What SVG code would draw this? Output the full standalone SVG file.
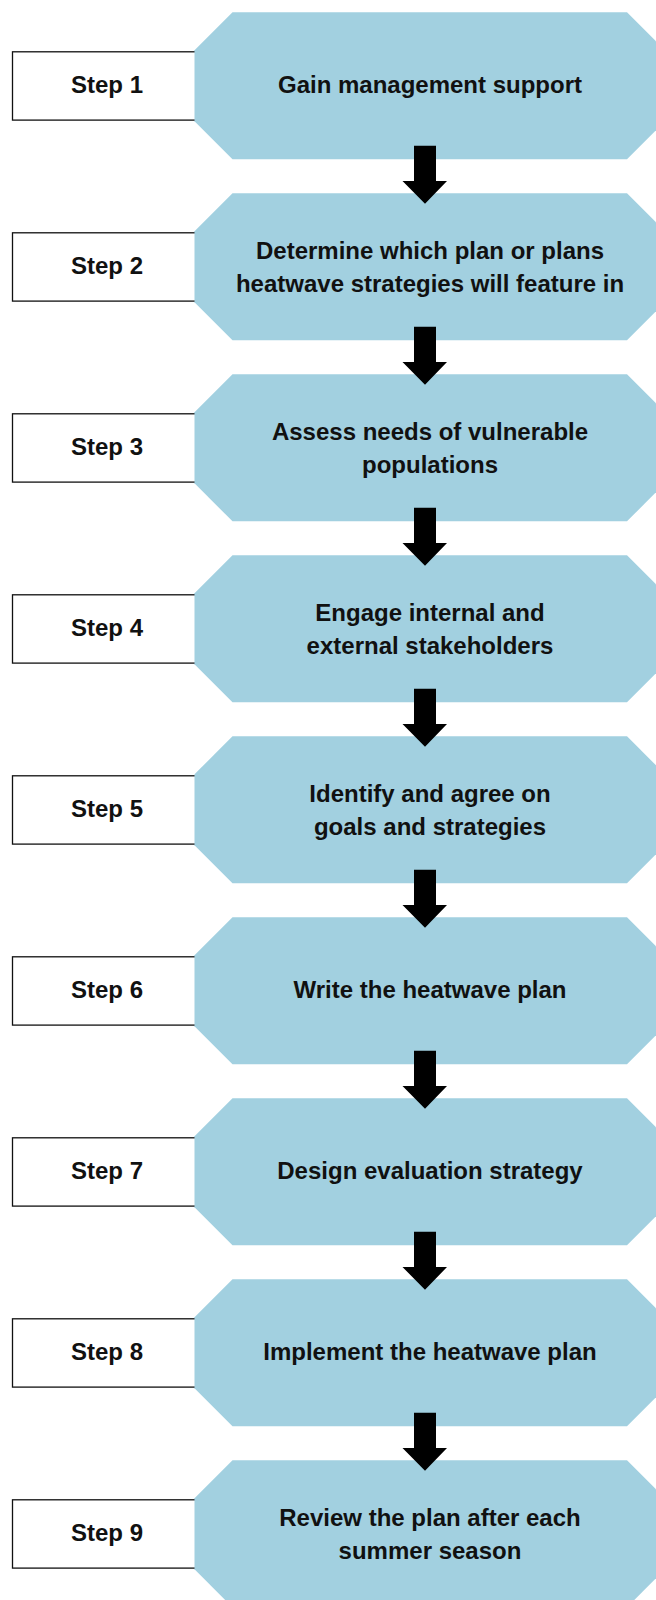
<svg xmlns="http://www.w3.org/2000/svg" xmlns:xlink="http://www.w3.org/1999/xlink" width="656" height="1600" viewBox="0 0 656 1600">
<style>
.lbl{fill:#fff;stroke:#111;stroke-width:1.3}
.oct{fill:#a2d0e0}
.t{font-family:"Liberation Sans",Arial,sans-serif;font-weight:bold;font-size:24px;fill:#111;text-anchor:middle}
.arr{fill:#000}
</style>
<defs>
<polygon id="octShape" class="oct" points="194.5,38 232.5,0 627,0 665,38 665,109 627,147 232.5,147 194.5,109"/>
<rect id="lblShape" class="lbl" x="12.5" y="39.5" width="190" height="68.3"/>
<path id="arrowShape" class="arr" d="M414,133.5 H436 V168.7 H447 L425,191.5 L402.5,168.7 H414 Z"/>
</defs>
<g id="node1" transform="translate(0,12.3)"><use xlink:href="#lblShape"/><use xlink:href="#octShape"/><text class="t" x="107" y="80.5">Step 1</text><text class="t" x="430" y="80.5">Gain management support</text></g>
<g id="node2" transform="translate(0,193.3)"><use xlink:href="#lblShape"/><use xlink:href="#octShape"/><text class="t" x="107" y="80.5">Step 2</text><text class="t" x="430" y="66">Determine which plan or plans</text><text class="t" x="430" y="98.5">heatwave strategies will feature in</text></g>
<g id="node3" transform="translate(0,374.3)"><use xlink:href="#lblShape"/><use xlink:href="#octShape"/><text class="t" x="107" y="80.5">Step 3</text><text class="t" x="430" y="66">Assess needs of vulnerable</text><text class="t" x="430" y="98.5">populations</text></g>
<g id="node4" transform="translate(0,555.3)"><use xlink:href="#lblShape"/><use xlink:href="#octShape"/><text class="t" x="107" y="80.5">Step 4</text><text class="t" x="430" y="66">Engage internal and</text><text class="t" x="430" y="98.5">external stakeholders</text></g>
<g id="node5" transform="translate(0,736.3)"><use xlink:href="#lblShape"/><use xlink:href="#octShape"/><text class="t" x="107" y="80.5">Step 5</text><text class="t" x="430" y="66">Identify and agree on</text><text class="t" x="430" y="98.5">goals and strategies</text></g>
<g id="node6" transform="translate(0,917.3)"><use xlink:href="#lblShape"/><use xlink:href="#octShape"/><text class="t" x="107" y="80.5">Step 6</text><text class="t" x="430" y="80.5">Write the heatwave plan</text></g>
<g id="node7" transform="translate(0,1098.3)"><use xlink:href="#lblShape"/><use xlink:href="#octShape"/><text class="t" x="107" y="80.5">Step 7</text><text class="t" x="430" y="80.5">Design evaluation strategy</text></g>
<g id="node8" transform="translate(0,1279.3)"><use xlink:href="#lblShape"/><use xlink:href="#octShape"/><text class="t" x="107" y="80.5">Step 8</text><text class="t" x="430" y="80.5">Implement the heatwave plan</text></g>
<g id="node9" transform="translate(0,1460.3)"><use xlink:href="#lblShape"/><use xlink:href="#octShape"/><text class="t" x="107" y="80.5">Step 9</text><text class="t" x="430" y="66">Review the plan after each</text><text class="t" x="430" y="98.5">summer season</text></g>
<g id="connectors">
<use xlink:href="#arrowShape" transform="translate(0,12.3)"/>
<use xlink:href="#arrowShape" transform="translate(0,193.3)"/>
<use xlink:href="#arrowShape" transform="translate(0,374.3)"/>
<use xlink:href="#arrowShape" transform="translate(0,555.3)"/>
<use xlink:href="#arrowShape" transform="translate(0,736.3)"/>
<use xlink:href="#arrowShape" transform="translate(0,917.3)"/>
<use xlink:href="#arrowShape" transform="translate(0,1098.3)"/>
<use xlink:href="#arrowShape" transform="translate(0,1279.3)"/>
</g>
</svg>
